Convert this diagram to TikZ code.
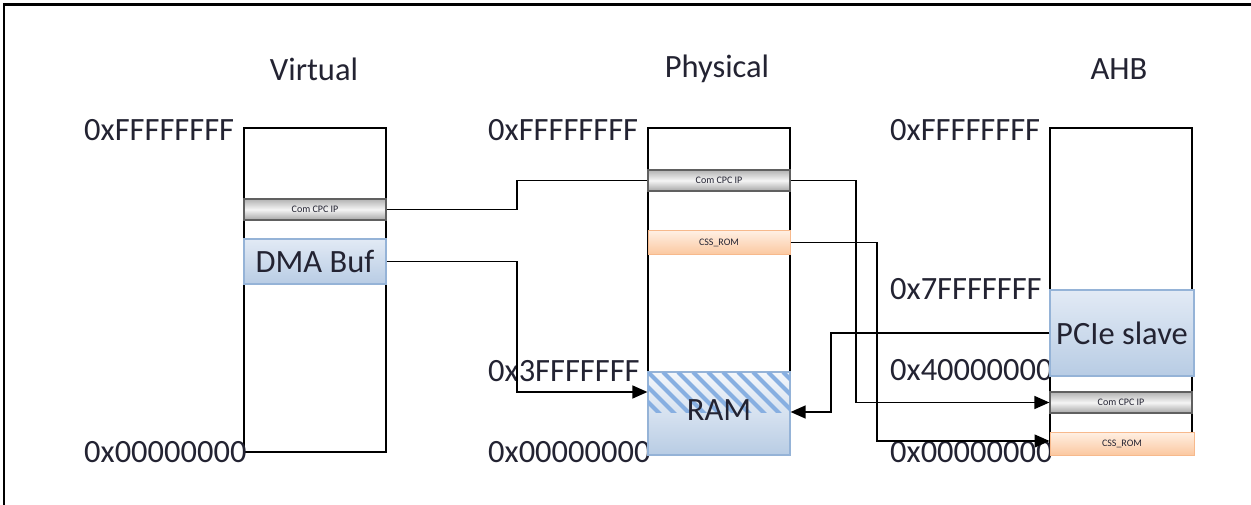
\documentclass[tikz,border=0pt]{standalone}
\usepackage{fontspec}
\setmainfont{Carlito}
\usetikzlibrary{arrows.meta,calc}
\definecolor{txt}{RGB}{35,35,50}
\definecolor{blueborder}{RGB}{149,179,215}
\definecolor{bluetop}{RGB}{226,234,245}
\definecolor{bluebot}{RGB}{184,204,228}
\definecolor{orgborder}{RGB}{247,185,140}
\definecolor{orgtop}{RGB}{255,240,228}
\definecolor{orgbot}{RGB}{251,200,160}
\definecolor{hatchc}{RGB}{135,175,225}
\tikzset{
  colbox/.style={draw=black, line width=2pt, minimum width=142pt, minimum height=324pt, inner sep=0pt},
  bigtxt/.style={font=\fontsize{32.5}{36}\selectfont, text=txt, inner sep=0pt},
  hexlab/.style={bigtxt, anchor=west},
  graybar/.style={draw=gray!75!black, line width=1.2pt, top color=gray!60, bottom color=gray!70, middle color=gray!8,
     minimum width=142pt, minimum height=21pt, inner sep=0pt, font=\fontsize{10}{12}\selectfont, text=txt},
  orgbar/.style={draw=orgborder, line width=1pt, top color=orgtop, bottom color=orgbot,
     minimum width=142pt, minimum height=24pt, inner sep=0pt, font=\fontsize{10}{12}\selectfont, text=txt},
  bluebox/.style={draw=blueborder, line width=1.2pt, top color=bluetop, bottom color=bluebot,
     minimum width=142pt, inner sep=0pt, font=\fontsize{32.5}{36}\selectfont, text=txt},
  conn/.style={draw=black, line width=1.4pt},
  arr/.style={conn, -{Triangle[length=15pt,width=13pt]}},
  hatch/.style={draw=hatchc, line width=4pt},
}
\begin{document}
\begin{tikzpicture}[x=1pt,y=-1pt]
\useasboundingbox (0,0) rectangle (1251,505);
% frame
\draw[line width=2.6pt] (4,505) -- (4,4.5) -- (1251,4.5);

% headers
\node[bigtxt] (hv) at (314,69) {Virtual};
\node[bigtxt] (hp) at (717,69) {Physical};
\node[bigtxt] (ha) at (1119,69) {AHB};

% column boxes
\node[colbox] (vcol) at (315,290) {};
\node[colbox] (pcol) at (719,290) {};
\node[colbox] (acol) at (1121,290) {};

% address labels
\node[hexlab] (v1) at (84,130) {0xFFFFFFFF};
\node[hexlab] (v0) at (84,452) {0x00000000};
\node[hexlab] (p1) at (488,130) {0xFFFFFFFF};
\node[hexlab] (p3) at (488,371) {0x3FFFFFFF};
\node[hexlab] (p0) at (488,452) {0x00000000};
\node[hexlab] (a1) at (890,130) {0xFFFFFFFF};
\node[hexlab] (a7) at (890,289) {0x7FFFFFFF};
\node[hexlab] (a4) at (890,370) {0x40000000};
\node[hexlab] (a0) at (890,452) {0x00000000};

% virtual regions
\node[graybar] (vcom) at (315,209.5) {Com CPC IP};
\node[bluebox, minimum height=45pt] (dma) at (315,261.5) {DMA Buf};

% physical regions
\node[graybar] (pcom) at (719,180.5) {Com CPC IP};
\node[orgbar] (pcss) at (719,242.5) {CSS\_ROM};
\node[bluebox, minimum height=83pt, top color=white!60!bluetop] (ram) at (719,413.5) {};
\begin{scope}
  \clip (648,372) rectangle (790,412);
  \foreach \i in {-60,-45,...,150} \draw[hatch] (648+\i,372) -- ++(45,45);
\end{scope}
\node[bigtxt] (ramt) at (719,410) {RAM};

% AHB regions
\node[bluebox, minimum height=86pt, minimum width=144pt] (pcie) at (1122,333) {PCIe slave};
\node[graybar] (acom) at (1121,402.5) {Com CPC IP};
\node[orgbar, minimum height=23pt, minimum width=144pt] (acss) at (1122,443.5) {CSS\_ROM};

% connectors
\draw[conn] (vcom.east) -| (517,195) |- (pcom.west);
\draw[arr] (dma.east) -| (517,300) |- ([yshift=21.5pt]ram.west);
\draw[arr] (pcom.east) -| (856,300) |- (acom.west);
\draw[arr] (pcss.east) -| (877,300) |- ([yshift=2.5pt]acss.west);
\draw[arr] (pcie.west) -| (831,380) |- ([yshift=1.5pt]ram.east);
\end{tikzpicture}
\end{document}
